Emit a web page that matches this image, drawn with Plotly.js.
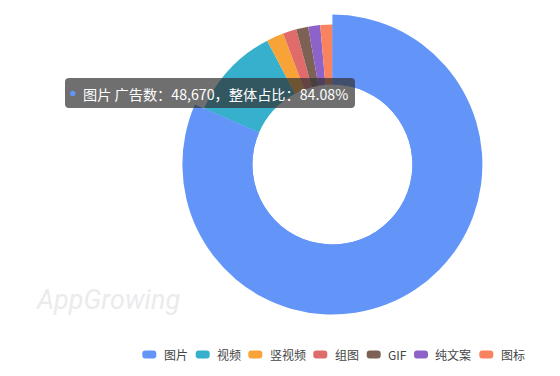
<!DOCTYPE html>
<html><head><meta charset="utf-8">
<script src="https://cdn.plot.ly/plotly-3.0.1.min.js"></script>
<style>html,body{margin:0;padding:0;background:#fff;}#chart{width:560px;height:376px;}</style>
</head><body><div id="chart"></div>
<script>
// ---- data ----
const categories = ['图片', '视频', '竖视频', '组图', 'GIF', '纯文案', '图标'];
const adCounts = [48670, 6413, 1193, 928, 829, 829, 829];
const sliceColors = ['#6395F9', '#36B0CC', '#F7A338', '#DF6B6B', '#7E6155', '#8D63C9', '#F9835F'];
const highlighted = '图片';
const tooltipCount = '48,670';
const tooltipShare = '84.08%';

// ---- layout constants ----
const W = 560, H = 376;
const cx = 332.4, cy = 164.5, rInner = 80, rOuter = 140, rActive = 150;
const legendSwatchX = [142.3, 195.7, 248.3, 313.3, 366.7, 414, 479.3];
const legendY = 354.5;

const px = x => x / W, py = y => 1 - y / H;
function roundRect(x0, y0, x1, y1, r) {
  return `M${px(x0 + r)},${py(y0)} L${px(x1 - r)},${py(y0)} Q${px(x1)},${py(y0)} ${px(x1)},${py(y0 + r)} ` +
         `L${px(x1)},${py(y1 - r)} Q${px(x1)},${py(y1)} ${px(x1 - r)},${py(y1)} L${px(x0 + r)},${py(y1)} ` +
         `Q${px(x0)},${py(y1)} ${px(x0)},${py(y1 - r)} L${px(x0)},${py(y0 + r)} Q${px(x0)},${py(y0)} ${px(x0 + r)},${py(y0)} Z`;
}
function dom(r) { return { x: [px(cx - r), px(cx + r)], y: [py(cy + r), py(cy - r)] }; }

const hiIdx = categories.indexOf(highlighted);

const base = {
  type: 'pie', labels: categories, values: adCounts, sort: false,
  direction: 'clockwise', rotation: 0, textinfo: 'none', hoverinfo: 'skip', showlegend: false
};
const traceAll = Object.assign({}, base, {
  marker: { colors: sliceColors, line: { width: 0 } },
  hole: rInner / rOuter, domain: dom(rOuter)
});
const traceActive = Object.assign({}, base, {
  marker: { colors: categories.map((c, i) => i === hiIdx ? sliceColors[i] : 'rgba(0,0,0,0)'), line: { width: 0 } },
  hole: rInner / rActive, domain: dom(rActive)
});

const shapes = [];
const annotations = [];

// tooltip box
shapes.push({ type: 'path', xref: 'paper', yref: 'paper', path: roundRect(65, 78, 355, 108, 4),
  fillcolor: 'rgba(50,50,50,0.7)', line: { width: 0 }, layer: 'above' });
shapes.push({ type: 'circle', xref: 'paper', yref: 'paper',
  x0: px(70), x1: px(75.5), y0: py(96.2), y1: py(90.7), fillcolor: sliceColors[hiIdx], line: { width: 0 }, layer: 'above' });
annotations.push({ xref: 'paper', yref: 'paper', x: px(81), y: py(93.5), xanchor: 'left', yanchor: 'middle',
  showarrow: false, text: `${highlighted} 广告数：${tooltipCount}，整体占比：${tooltipShare}`,
  font: { family: 'Noto Sans CJK SC, sans-serif', size: 14.2, color: '#ffffff' } });

// legend
categories.forEach((c, i) => {
  const x0 = legendSwatchX[i];
  shapes.push({ type: 'path', xref: 'paper', yref: 'paper', path: roundRect(x0, legendY - 4, x0 + 14, legendY + 4, 3),
    fillcolor: sliceColors[i], line: { width: 0 }, layer: 'above' });
  annotations.push({ xref: 'paper', yref: 'paper', x: px(x0 + 19.4), y: py(legendY), xanchor: 'left', yanchor: 'middle',
    showarrow: false, text: c, font: { family: 'Noto Sans CJK SC, sans-serif', size: 12, color: '#444444' } });
});

// watermark
annotations.push({ xref: 'paper', yref: 'paper', x: px(33), y: py(300), xanchor: 'left', yanchor: 'middle',
  showarrow: false, text: 'AppGrowing',
  font: { family: 'Roboto, sans-serif', size: 27, color: '#ebebed', style: 'italic', weight: 400 } });

Plotly.newPlot('chart', [traceAll, traceActive], {
  width: W, height: H, margin: { l: 0, r: 0, t: 0, b: 0, pad: 0 },
  paper_bgcolor: '#ffffff', plot_bgcolor: '#ffffff', showlegend: false, hovermode: false,
  shapes: shapes, annotations: annotations
}, { displayModeBar: false, staticPlot: true });
</script>
</body></html>
